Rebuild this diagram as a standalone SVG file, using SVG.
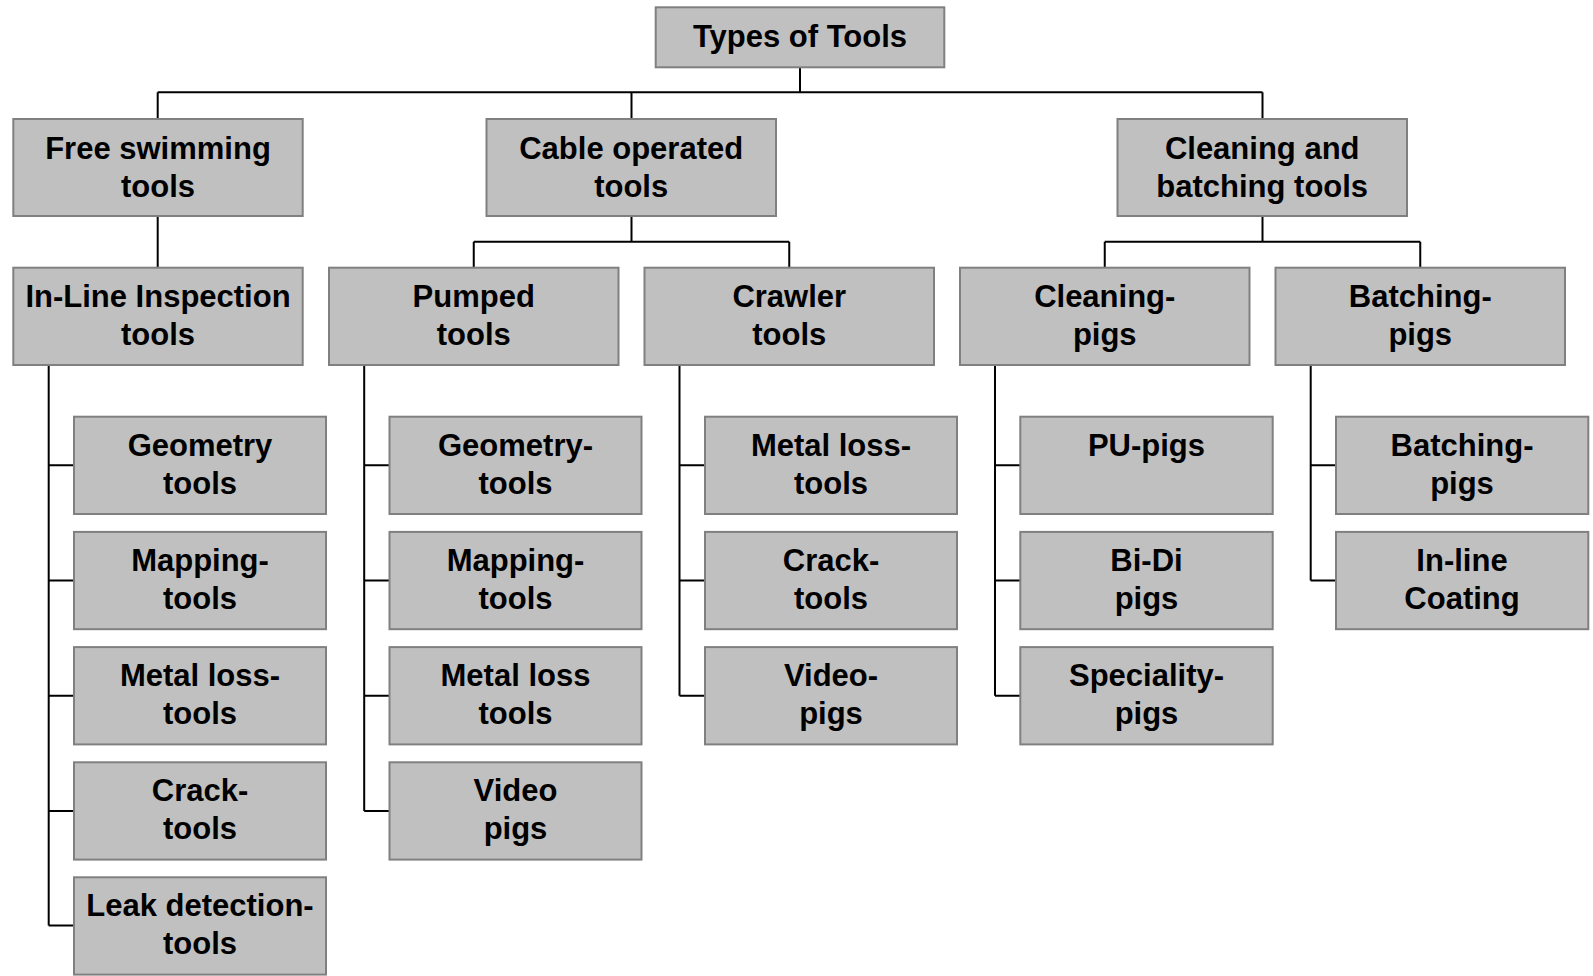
<svg xmlns="http://www.w3.org/2000/svg" width="1593" height="976" viewBox="0 0 1593 976">
<style>
.box{fill:#C0C0C0;stroke:#808080;stroke-width:2}
.t{font-family:"Liberation Sans",Arial,sans-serif;font-weight:bold;font-size:31px;fill:#000;text-anchor:middle}
.c{fill:none;stroke:#000;stroke-width:2}
</style>
<rect width="1593" height="976" fill="#fff"/>
<g id="connectors">
<path class="c" d="M800,67.3V92.3M157.7,92.3H1262.5M157.7,92.3V119M631.5,92.3V119M1262.5,92.3V119"/>
<path class="c" d="M157.7,216V267.7"/>
<path class="c" d="M631.5,216V241.7M473.75,241.7H789.25M473.75,241.7V267.7M789.25,241.7V267.7"/>
<path class="c" d="M1262.5,216V241.7M1104.75,241.7H1420.25M1104.75,241.7V267.7M1420.25,241.7V267.7"/>
<path class="c" d="M48.7,365V925.5M48.7,465.3H74M48.7,580.5H74M48.7,695.7H74M48.7,810.9H74M48.7,925.5H74"/>
<path class="c" d="M364.2,365V810.9M364.2,465.3H389.5M364.2,580.5H389.5M364.2,695.7H389.5M364.2,810.9H389.5"/>
<path class="c" d="M679.5,365V695.7M679.5,465.3H705M679.5,580.5H705M679.5,695.7H705"/>
<path class="c" d="M995,365V695.7M995,465.3H1020.3M995,580.5H1020.3M995,695.7H1020.3"/>
<path class="c" d="M1310.7,365V580.5M1310.7,465.3H1336M1310.7,580.5H1336"/>
</g>
<g id="root"><rect class="box" x="655.7" y="7.3" width="288.6" height="60"/><text class="t" x="800" y="46.7">Types of Tools</text></g>
<g id="free-swimming"><rect class="box" x="13.3" y="119" width="289.4" height="97"/><text class="t" x="158" y="159.3">Free swimming</text><text class="t" x="158" y="196.5">tools</text></g>
<g id="cable-operated"><rect class="box" x="486.5" y="119" width="289.5" height="97"/><text class="t" x="631.2" y="159.3">Cable operated</text><text class="t" x="631.2" y="196.5">tools</text></g>
<g id="cleaning-batching"><rect class="box" x="1117.5" y="119" width="289.5" height="97"/><text class="t" x="1262.2" y="159.3">Cleaning and</text><text class="t" x="1262.2" y="196.5">batching tools</text></g>
<g id="ili"><rect class="box" x="13.3" y="267.7" width="289.4" height="97.3"/><text class="t" x="158" y="307">In-Line Inspection</text><text class="t" x="158" y="344.5">tools</text></g>
<g id="pumped"><rect class="box" x="329" y="267.7" width="289.5" height="97.3"/><text class="t" x="473.75" y="307">Pumped</text><text class="t" x="473.75" y="344.5">tools</text></g>
<g id="crawler"><rect class="box" x="644.5" y="267.7" width="289.5" height="97.3"/><text class="t" x="789.25" y="307">Crawler</text><text class="t" x="789.25" y="344.5">tools</text></g>
<g id="cleaning-pigs"><rect class="box" x="960" y="267.7" width="289.5" height="97.3"/><text class="t" x="1104.75" y="307">Cleaning-</text><text class="t" x="1104.75" y="344.5">pigs</text></g>
<g id="batching-pigs"><rect class="box" x="1275.5" y="267.7" width="289.5" height="97.3"/><text class="t" x="1420.25" y="307">Batching-</text><text class="t" x="1420.25" y="344.5">pigs</text></g>

<g id="ili-geometry"><rect class="box" x="74" y="416.7" width="252" height="97.3"/><text class="t" x="200" y="455.5">Geometry</text><text class="t" x="200" y="493.5">tools</text></g>
<g id="ili-mapping"><rect class="box" x="74" y="531.9" width="252" height="97.3"/><text class="t" x="200" y="570.7">Mapping-</text><text class="t" x="200" y="608.7">tools</text></g>
<g id="ili-metal"><rect class="box" x="74" y="647.1" width="252" height="97.3"/><text class="t" x="200" y="685.9">Metal loss-</text><text class="t" x="200" y="723.9">tools</text></g>
<g id="ili-crack"><rect class="box" x="74" y="762.3" width="252" height="97.3"/><text class="t" x="200" y="801.1">Crack-</text><text class="t" x="200" y="839.1">tools</text></g>
<g id="ili-leak"><rect class="box" x="74" y="877.3" width="252" height="97.3"/><text class="t" x="200" y="916.1">Leak detection-</text><text class="t" x="200" y="954.1">tools</text></g>

<g id="pumped-geometry"><rect class="box" x="389.5" y="416.7" width="252" height="97.3"/><text class="t" x="515.5" y="455.5">Geometry-</text><text class="t" x="515.5" y="493.5">tools</text></g>
<g id="pumped-mapping"><rect class="box" x="389.5" y="531.9" width="252" height="97.3"/><text class="t" x="515.5" y="570.7">Mapping-</text><text class="t" x="515.5" y="608.7">tools</text></g>
<g id="pumped-metal"><rect class="box" x="389.5" y="647.1" width="252" height="97.3"/><text class="t" x="515.5" y="685.9">Metal loss</text><text class="t" x="515.5" y="723.9">tools</text></g>
<g id="pumped-video"><rect class="box" x="389.5" y="762.3" width="252" height="97.3"/><text class="t" x="515.5" y="801.1">Video</text><text class="t" x="515.5" y="839.1">pigs</text></g>

<g id="crawler-metal"><rect class="box" x="705" y="416.7" width="252" height="97.3"/><text class="t" x="831" y="455.5">Metal loss-</text><text class="t" x="831" y="493.5">tools</text></g>
<g id="crawler-crack"><rect class="box" x="705" y="531.9" width="252" height="97.3"/><text class="t" x="831" y="570.7">Crack-</text><text class="t" x="831" y="608.7">tools</text></g>
<g id="crawler-video"><rect class="box" x="705" y="647.1" width="252" height="97.3"/><text class="t" x="831" y="685.9">Video-</text><text class="t" x="831" y="723.9">pigs</text></g>

<g id="pu-pigs"><rect class="box" x="1020.3" y="416.7" width="252.4" height="97.3"/><text class="t" x="1146.5" y="455.5">PU-pigs</text></g>
<g id="bidi-pigs"><rect class="box" x="1020.3" y="531.9" width="252.4" height="97.3"/><text class="t" x="1146.5" y="570.7">Bi-Di</text><text class="t" x="1146.5" y="608.7">pigs</text></g>
<g id="speciality-pigs"><rect class="box" x="1020.3" y="647.1" width="252.4" height="97.3"/><text class="t" x="1146.5" y="685.9">Speciality-</text><text class="t" x="1146.5" y="723.9">pigs</text></g>

<g id="batching-child"><rect class="box" x="1336" y="416.7" width="252.3" height="97.3"/><text class="t" x="1462" y="455.5">Batching-</text><text class="t" x="1462" y="493.5">pigs</text></g>
<g id="inline-coating"><rect class="box" x="1336" y="531.9" width="252.3" height="97.3"/><text class="t" x="1462" y="570.7">In-line</text><text class="t" x="1462" y="608.7">Coating</text></g>
</svg>
